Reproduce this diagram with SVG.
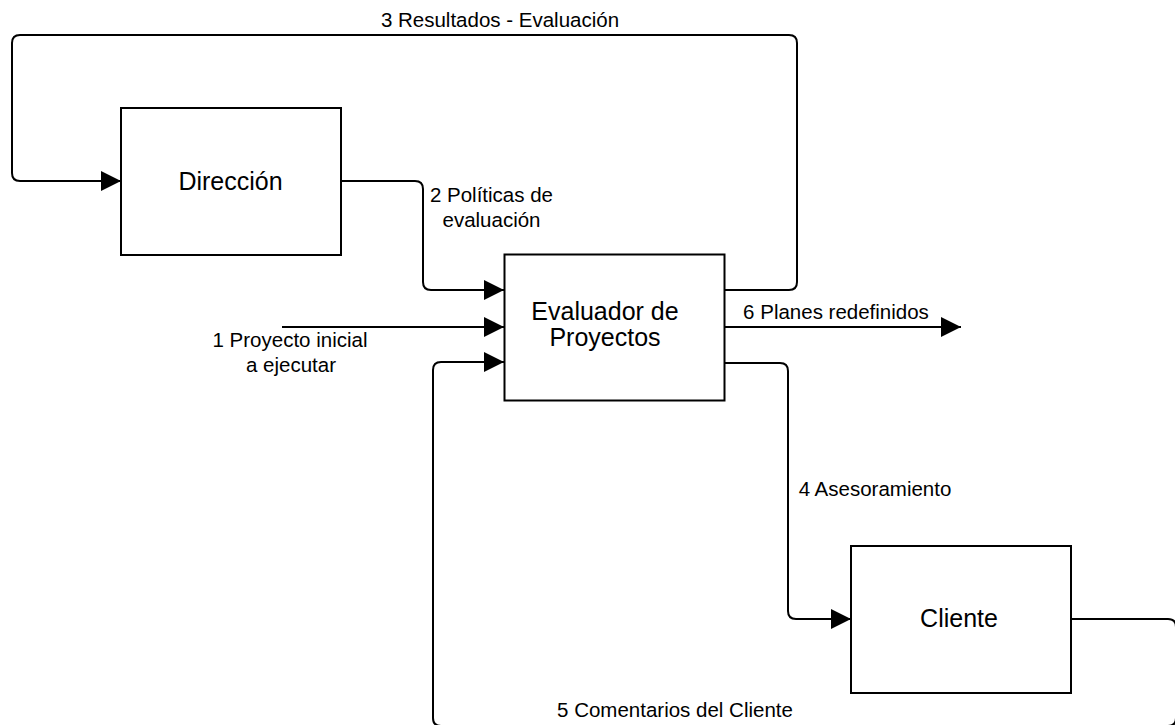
<svg xmlns="http://www.w3.org/2000/svg" width="1175" height="725" viewBox="0 0 1175 725">
  <style>
    .box { fill: #ffffff; stroke: #000000; stroke-width: 2; }
    .name { font-family: "Liberation Sans", Arial, sans-serif; font-size: 25px; fill: #000000; text-anchor: middle; }
    .lbl { font-family: "Liberation Sans", Arial, sans-serif; font-size: 20.5px; fill: #000000; text-anchor: middle; }
    .flow { fill: none; stroke: #000000; stroke-width: 2; }
  </style>
  <defs>
    <marker id="arrow" markerUnits="userSpaceOnUse" markerWidth="20" markerHeight="20" refX="20" refY="10" orient="auto">
      <path d="M0,0 L20,10 L0,20 Z" fill="#000000"/>
    </marker>
  </defs>

  <rect width="1175" height="725" fill="#ffffff"/>

  <!-- connectors -->
  <g id="connectors">
    <!-- 3: Evaluador -> Direccion (feedback loop over the top) -->
    <path class="flow" marker-end="url(#arrow)" d="M724,290 H789 Q797,290 797,282 V43 Q797,35 789,35 H20 Q12,35 12,43 V173 Q12,181 20,181 H121"/>
    <!-- 2: Direccion -> Evaluador -->
    <path class="flow" marker-end="url(#arrow)" d="M341,181 H415 Q423,181 423,189 V282 Q423,290 431,290 H504"/>
    <!-- 1: incoming project -->
    <path class="flow" marker-end="url(#arrow)" d="M282,327 H504"/>
    <!-- 6: outgoing plans -->
    <path class="flow" marker-end="url(#arrow)" d="M724,327 H961"/>
    <!-- 4: Evaluador -> Cliente -->
    <path class="flow" marker-end="url(#arrow)" d="M724,363 H780 Q788,363 788,371 V611 Q788,619 796,619 H851"/>
    <!-- 5: Cliente -> Evaluador (returns along the page edge) -->
    <path class="flow" marker-end="url(#arrow)" d="M1071,619 H1168 Q1176,619 1176,627 V718 Q1176,726 1168,726 H441 Q433,726 433,718 V370 Q433,362 441,362 H504"/>
  </g>

  <!-- connector labels -->
  <g id="labels">
    <text class="lbl" x="500" y="26.5">3 Resultados - Evaluación</text>
    <text class="lbl" x="491.5" y="201.5">2 Políticas de</text>
    <text class="lbl" x="491.5" y="226.5">evaluación</text>
    <text class="lbl" x="290" y="347">1 Proyecto inicial</text>
    <text class="lbl" x="291" y="372">a ejecutar</text>
    <text class="lbl" x="836" y="319">6 Planes redefinidos</text>
    <text class="lbl" x="875" y="496">4 Asesoramiento</text>
    <text class="lbl" x="675" y="717">5 Comentarios del Cliente</text>
  </g>

  <g id="direccion">
    <rect class="box" x="121" y="108" width="220" height="147"/>
    <text class="name" x="230.5" y="190">Dirección</text>
  </g>

  <g id="evaluador">
    <rect class="box" x="504.5" y="254.5" width="220" height="146"/>
    <text class="name" x="605" y="320">Evaluador de</text>
    <text class="name" x="605" y="346">Proyectos</text>
  </g>

  <g id="cliente">
    <rect class="box" x="851" y="546" width="220" height="147"/>
    <text class="name" x="959" y="627">Cliente</text>
  </g>
</svg>
